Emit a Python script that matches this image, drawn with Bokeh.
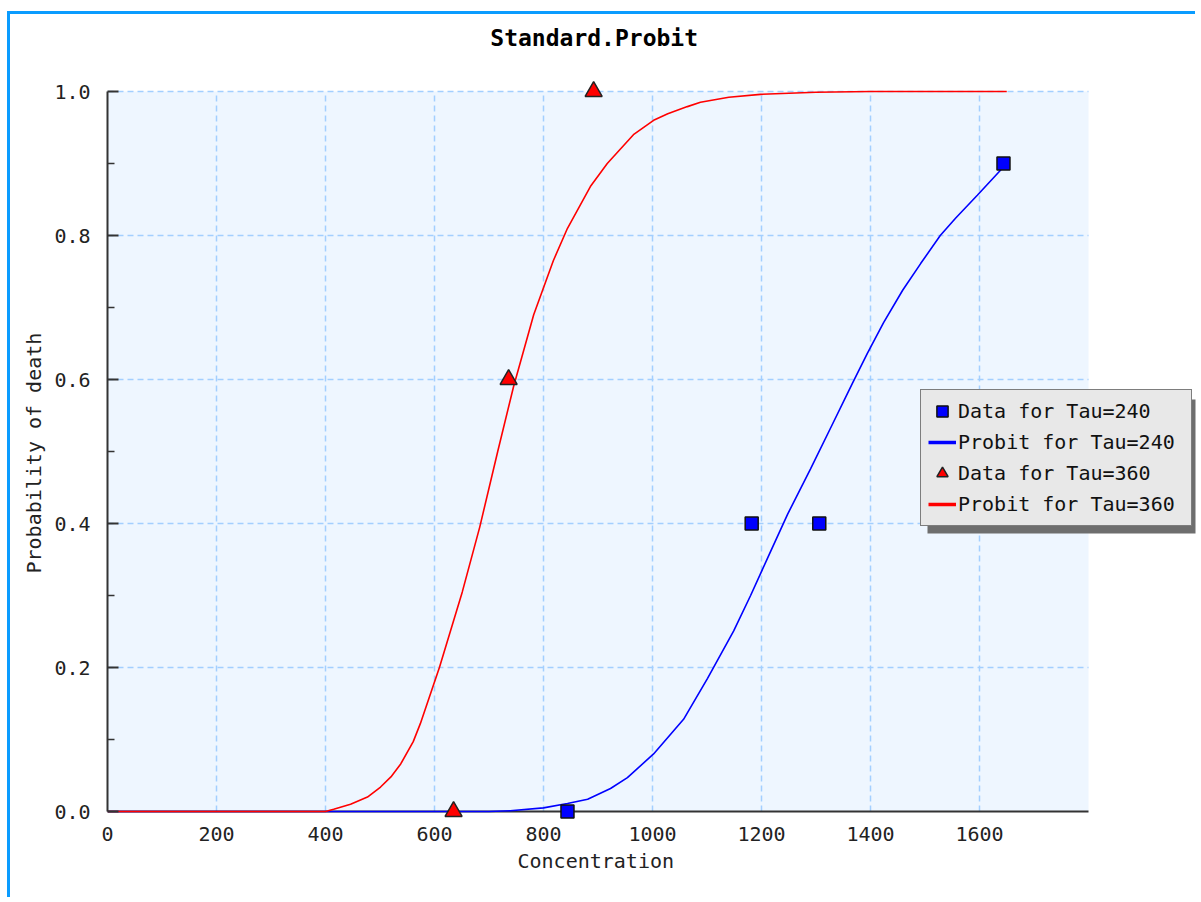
from bokeh.plotting import figure
from bokeh.models import Range1d, FixedTicker, PrintfTickFormatter, Legend, LegendItem, BoxAnnotation, Title
from bokeh.core.properties import value
from bokeh.embed import file_html
from bokeh.resources import INLINE

title_text = "Standard.Probit"
x_label = "Concentration"
y_label = "Probability of death"

# observed data points
data240_x = [844, 1182, 1306, 1644]
data240_y = [0.0, 0.4, 0.4, 0.9]
data360_x = [635, 736, 892]
data360_y = [0.0, 0.6, 1.0]

# fitted probit curves
probit240_x = [0, 400, 600, 700, 739, 800, 844, 881, 923, 954, 1002, 1057, 1101, 1149, 1180,
               1213, 1248, 1290, 1327, 1367, 1394, 1424, 1459, 1492, 1528, 1556, 1596, 1650]
probit240_y = [0.0, 0.0, 0.0, 0.0, 0.001, 0.005, 0.011, 0.017, 0.032, 0.047, 0.08, 0.128, 0.185, 0.251, 0.30,
               0.355, 0.413, 0.476, 0.533, 0.595, 0.636, 0.679, 0.724, 0.761, 0.8, 0.824, 0.856, 0.9]
probit360_x = [0, 400, 415, 446, 477, 501, 520, 538, 561, 574, 609, 651, 683, 716, 745, 782, 818, 844,
               886, 917, 965, 1002, 1028, 1064, 1088, 1140, 1198, 1300, 1400, 1500, 1650]
probit360_y = [0.0, 0.0, 0.003, 0.010, 0.020, 0.034, 0.048, 0.066, 0.097, 0.122, 0.2, 0.305, 0.395, 0.50, 0.59, 0.69, 0.765, 0.81,
               0.868, 0.90, 0.94, 0.96, 0.969, 0.979, 0.985, 0.992, 0.996, 0.999, 1.0, 1.0, 1.0]

x_ticks = [0, 200, 400, 600, 800, 1000, 1200, 1400, 1600]
y_ticks = [0.0, 0.2, 0.4, 0.6, 0.8, 1.0]
y_minor = [0.1, 0.3, 0.5, 0.7, 0.9]
x_min, x_max = 0, 1800
y_min, y_max = 0.0, 1.0

FONT = "DejaVu Sans Mono"
PX_PER_Y = 720.0
y_view_start = y_min - 15 / PX_PER_Y
y_view_end = y_view_start + 808 / PX_PER_Y     # room above the plot area for the title
x_view_end = x_max * 1088 / 981                # room at the right so the legend is not clipped
title_y = y_max + 54 / PX_PER_Y

p = figure(width=1188, height=886, x_range=Range1d(x_min, x_view_end),
           y_range=Range1d(y_view_start, y_view_end),
           output_backend="svg", toolbar_location=None,
           min_border_left=97, min_border_right=3, min_border_top=4, min_border_bottom=74,
           background_fill_color="white", border_fill_color="white", outline_line_color=None)
p.margin = (14, 0, 0, 10)
p.styles = {"box-shadow": "-3px -3px 0 0 #0a9cff"}
p.grid.visible = False

# plot area background
p.quad(left=[x_min], right=[x_max], bottom=[y_min], top=[y_max], fill_color="#eef6ff", line_color=None)

# dashed grid
gx = x_ticks[1:]
p.segment(x0=gx, y0=[y_min] * len(gx), x1=gx, y1=[y_max] * len(gx),
          line_color="#a3cfff", line_dash="6 4", line_width=1.5)
gy = y_ticks[1:]
p.segment(x0=[x_min] * len(gy), y0=gy, x1=[x_max] * len(gy), y1=gy,
          line_color="#a3cfff", line_dash="6 4", line_width=1.5)

# x axis line at y=0
p.segment(x0=[x_min], y0=[y_min], x1=[x_max], y1=[y_min], line_color="#333333", line_width=2)

# curves and points
l240 = p.line(probit240_x, probit240_y, line_color="#0000ff", line_width=1.6)
l360 = p.line(probit360_x, probit360_y, line_color="#ff0000", line_width=1.6)
s240 = p.scatter(data240_x, data240_y, marker="square", size=13, fill_color="#0000ff",
                 line_color="#111111", line_width=1.5)
s360 = p.scatter(data360_x, data360_y, marker="triangle", size=17, fill_color="#ff0000",
                 line_color="#222222", line_width=1.5)

# legend-only thicker line proxies (kept outside the visible range)
lg240 = p.line(x=[-300, -200], y=[-1, -1], line_color="#0000ff", line_width=3.5)
lg360 = p.line(x=[-300, -200], y=[-1, -1], line_color="#ff0000", line_width=3.5)

# title
p.text(x=[x_max / 2 - 7], y=[title_y], text=[title_text], text_align="center", text_baseline="middle",
       text_font=value(FONT), text_font_size="23px", text_font_style="bold", text_color="#000000")

# axes
xa = p.xaxis[0]
xa.ticker = FixedTicker(ticks=x_ticks)
xa.bounds = (x_min, x_max)
xa.axis_line_color = None
xa.major_tick_line_color = None
xa.minor_tick_line_color = None
xa.major_tick_out = 0
xa.major_tick_in = 0
xa.major_label_text_font = FONT
xa.major_label_text_font_size = "20px"
xa.major_label_text_color = "#222222"
xa.major_label_standoff = 0

ya = p.yaxis[0]
ya.ticker = FixedTicker(ticks=y_ticks, minor_ticks=y_minor)
ya.bounds = (y_min, y_max)
ya.formatter = PrintfTickFormatter(format="%.1f")
ya.axis_line_color = "#333333"
ya.axis_line_width = 2
ya.major_tick_in = 11
ya.major_tick_out = 0
ya.major_tick_line_width = 2
ya.major_tick_line_color = "#333333"
ya.minor_tick_in = 7
ya.minor_tick_out = 0
ya.minor_tick_line_width = 1.5
ya.minor_tick_line_color = "#333333"
ya.major_label_text_font = FONT
ya.major_label_text_font_size = "20px"
ya.major_label_text_color = "#222222"
ya.major_label_standoff = 17

# axis titles, placed along the data extent of each axis
x_title = Title(text=x_label, align="left", offset=410, standoff=6,
                text_font=FONT, text_font_size="20px", text_font_style="normal", text_color="#222222")
p.add_layout(x_title, "below")
y_title = Title(text=y_label, align="left", offset=253, standoff=11,
                text_font=FONT, text_font_size="20px", text_font_style="normal", text_color="#222222")
p.add_layout(y_title, "left")

# legend shadow (in data units so it follows the frame)
shadow = BoxAnnotation(left=(927 - 107) / 0.545, right=2200,
                       top=(811 - 399) / PX_PER_Y, bottom=(811 - 533) / PX_PER_Y,
                       fill_color="#6e6e6e", fill_alpha=1, line_alpha=0)
p.add_layout(shadow)

legend = Legend(items=[
    LegendItem(label="Data for Tau=240", renderers=[s240]),
    LegendItem(label="Probit for Tau=240", renderers=[lg240]),
    LegendItem(label="Data for Tau=360", renderers=[s360]),
    LegendItem(label="Probit for Tau=360", renderers=[lg360]),
], location=(813, 300))
legend.background_fill_color = "#e8e8e8"
legend.background_fill_alpha = 1
legend.border_line_color = "#111111"
legend.border_line_width = 1.5
legend.padding = 7
legend.spacing = 3
legend.margin = 0
legend.glyph_width = 28
legend.glyph_height = 28
legend.label_height = 28
legend.label_width = 226
legend.label_standoff = 2
legend.label_text_font = FONT
legend.label_text_font_size = "20px"
legend.label_text_color = "#111111"
p.add_layout(legend)

open("out.html", "w").write(file_html(p, INLINE))
